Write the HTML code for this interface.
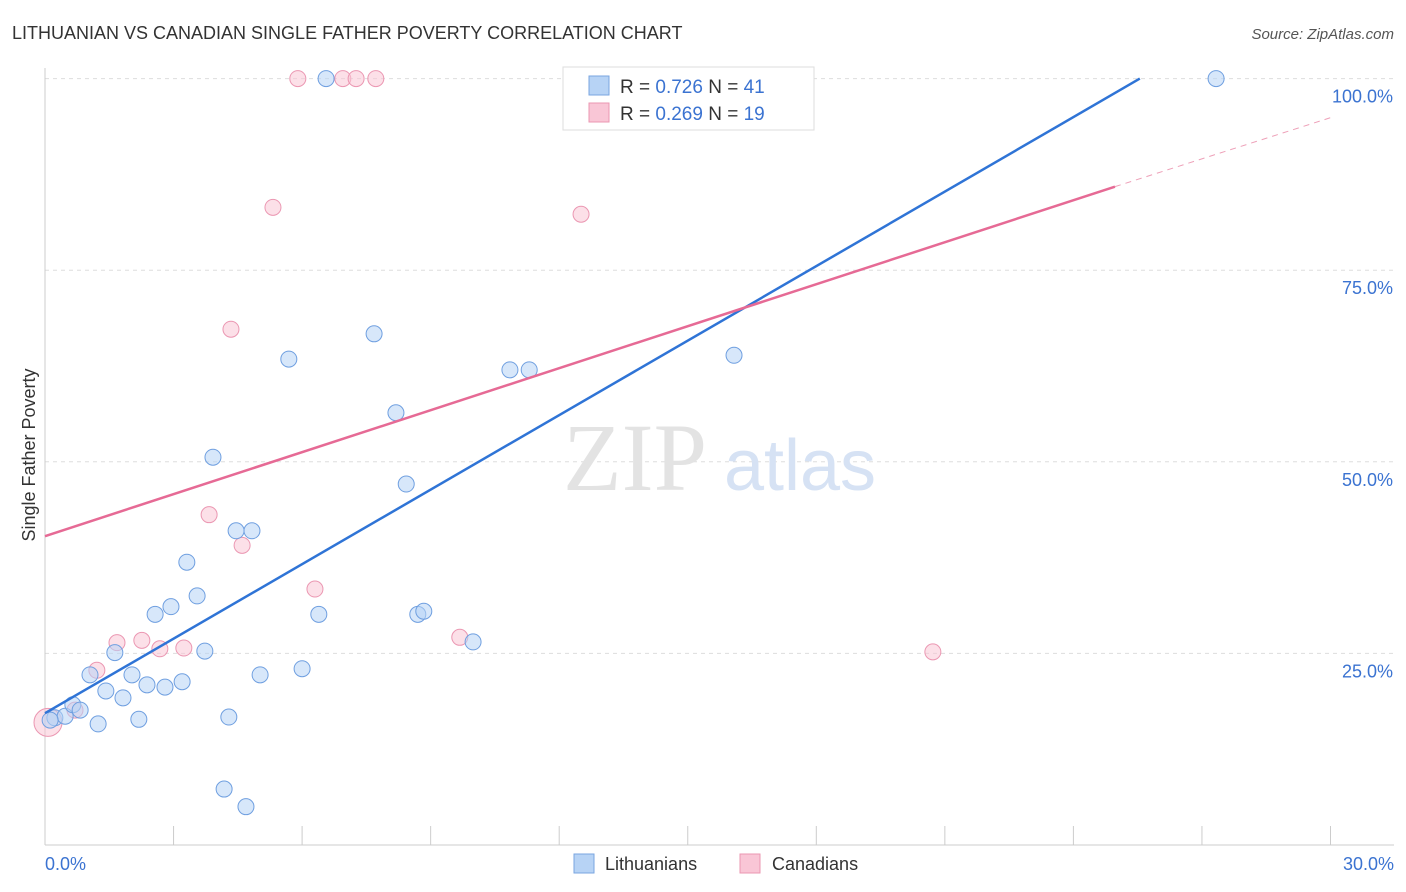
<!DOCTYPE html>
<html><head><meta charset="utf-8"><style>
body{margin:0;background:#fff;font-family:"Liberation Sans",sans-serif;}
svg{display:block}
</style></head><body>
<svg width="1406" height="892" xmlns="http://www.w3.org/2000/svg">
<text x="12" y="39" font-size="18" fill="#333">LITHUANIAN VS CANADIAN SINGLE FATHER POVERTY CORRELATION CHART</text>
<text x="1394" y="39" font-size="15" fill="#555" font-style="italic" text-anchor="end">Source: ZipAtlas.com</text>
<g id="grid"></g>
<g>
<text x="635" y="490" font-size="96" fill="#e3e3e3" font-family="Liberation Serif,serif" text-anchor="middle">ZIP</text>
<text x="800" y="490" font-size="72" fill="#d6e2f4" text-anchor="middle">atlas</text></g>
<g id="axes"></g>
<g id="marks"></g>
<text x="35" y="455" font-size="18" fill="#333" text-anchor="middle" transform="rotate(-90 35 455)">Single Father Poverty</text>
<g>
<rect x="563" y="67" width="251" height="63" fill="#fff" stroke="#ddd"/>
<rect x="589" y="76" width="20" height="19" fill="#b7d3f5" stroke="#7aa6e0"/>
<rect x="589" y="103" width="20" height="19" fill="#f9c6d6" stroke="#eb97b2"/>
<text x="620" y="93" font-size="19" fill="#333">R = <tspan fill="#3b73d1">0.726</tspan>   N = <tspan fill="#3b73d1">41</tspan></text>
<text x="620" y="120" font-size="19" fill="#333">R = <tspan fill="#3b73d1">0.269</tspan>   N = <tspan fill="#3b73d1">19</tspan></text>
</g>
<g>
<rect x="574" y="854" width="20" height="19" fill="#b7d3f5" stroke="#7aa6e0"/>
<text x="605" y="870" font-size="18" fill="#333">Lithuanians</text>
<rect x="740" y="854" width="20" height="19" fill="#f9c6d6" stroke="#eb97b2"/>
<text x="772" y="870" font-size="18" fill="#333">Canadians</text>
</g>
</svg>
<script>
const blueX=[0.23,0.47,0.65,0.82,1.05,1.24,1.42,1.63,1.82,2.03,2.19,2.38,2.57,2.80,2.94,3.20,3.31,3.55,3.73,3.92,4.29,4.18,4.46,4.69,4.83,5.02,5.69,6.00,6.39,6.56,7.68,8.19,8.43,8.70,8.84,9.99,10.85,11.30,16.08,27.33,0.12];
const blueY=[16.6,16.8,18.3,17.6,22.2,15.8,20.1,25.1,19.2,22.2,16.4,20.9,30.1,20.6,31.1,21.3,36.9,32.5,25.3,50.6,16.7,7.3,41.0,5.0,41.0,22.2,63.4,23.0,30.1,100,66.7,56.4,47.1,30.1,30.5,26.5,62.0,62.0,63.9,100,16.3];
const pinkX=[0.07,0.70,1.21,1.68,2.26,2.68,3.24,3.83,4.34,4.60,5.32,5.90,6.30,6.95,7.26,7.72,9.68,12.51,20.72];
const pinkY=[16.0,17.6,22.8,26.4,26.7,25.6,25.7,43.1,67.3,39.1,83.2,100,33.4,100,100,100,27.1,82.3,25.2];
const blueLine=[[0,17.2],[25.55,100]];
const pinkLine=[[0,40.3],[24.97,85.9]];
const pinkDash=[[24.97,85.9],[30,94.9]];
const yTicks=[25,50,75,100];
const xTickLabels=["0.0%","30.0%"];
const NS="http://www.w3.org/2000/svg";
const sx=v=>45+v*42.85, sy=v=>845-v*7.664;
function mk(p,t,a){const e=document.createElementNS(NS,t);for(const k in a)e.setAttribute(k,a[k]);p.appendChild(e);return e;}
const grid=document.getElementById('grid'),axes=document.getElementById('axes'),marks=document.getElementById('marks');
yTicks.forEach(t=>{const l=mk(grid,'line',{x1:45,x2:1394,y1:sy(t),y2:sy(t),stroke:'#ddd','stroke-dasharray':'4,4'});


const tx=mk(axes,'text',{x:1393,y:sy(t)+24,'font-size':18,fill:'#3b73d1','text-anchor':'end'});tx.textContent=t.toFixed(1)+'%';

});
mk(axes,'line',{x1:45,x2:45,y1:68,y2:845,stroke:'#ccc'});
mk(axes,'line',{x1:45,x2:1394,y1:845,y2:845,stroke:'#ccc'});
for(let i=0;i<=10;i++){mk(axes,'line',{x1:sx(i*3),x2:sx(i*3),y1:826,y2:845,stroke:'#ccc'});}
[[0,'start',45],[1,'end',1394]].forEach(([i,a,x])=>{const t=mk(axes,'text',{x:x,y:870,'font-size':18,fill:'#3b73d1','text-anchor':a});t.textContent=xTickLabels[i];

});
function pts(X,Y,f,s,name){X.forEach((x,i)=>{const c=mk(marks,'circle',{cx:sx(x),cy:sy(Y[i]),r:(name=='canadian-point'&&i==0)?14:8,fill:f,'fill-opacity':0.55,stroke:s,'stroke-width':1});

});}
pts(pinkX,pinkY,'#f9c6d6','#eb97b2','canadian-point');
pts(blueX,blueY,'#b7d3f5','#6f9fe0','lithuanian-point');
function ln(L,c,d,name){const e=mk(marks,'line',{x1:sx(L[0][0]),y1:sy(L[0][1]),x2:sx(L[1][0]),y2:sy(L[1][1]),stroke:c,'stroke-width':d?1:2.5});if(d)e.setAttribute('stroke-dasharray','6,5');

}
ln(blueLine,'#2f74d6',false,'lithuanian-trendline');
ln(pinkLine,'#e66a95',false,'canadian-trendline');
ln(pinkDash,'#eea0b8',true,'canadian-trendline-extension');
</script>
</body></html>
